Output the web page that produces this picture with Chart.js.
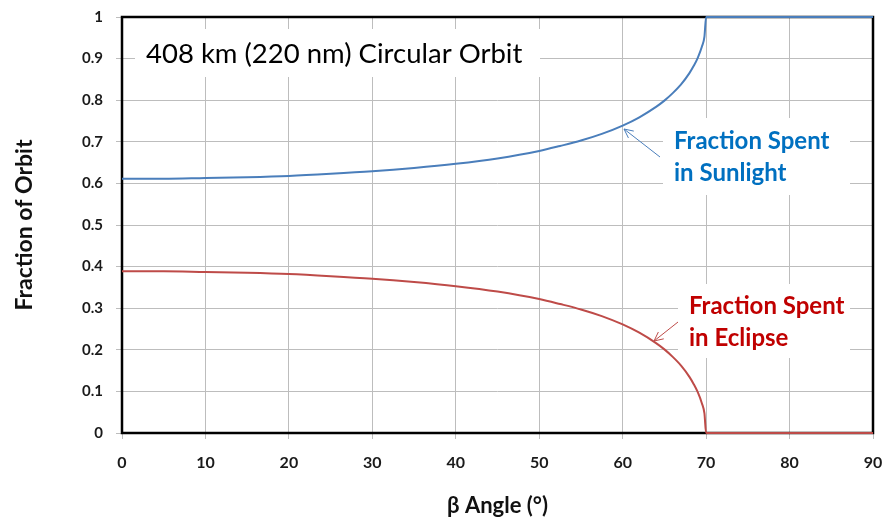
<!DOCTYPE html>
<html>
<head>
<meta charset="utf-8">
<script src="https://cdn.jsdelivr.net/npm/chart.js@4.4.1/dist/chart.umd.min.js"></script>
<style>
  body { margin: 0; background: #fff; }
  canvas { display: block; }
</style>
</head>
<body>
<canvas id="orbitChart" width="883" height="523"></canvas>
<script>
// beta angle (deg) and fraction of orbit
const betaAngle = [0, 5, 10, 15, 20, 25, 30, 35, 40, 45, 50, 52.5, 55, 57.5, 60, 62, 64, 65, 66, 67, 68, 68.5, 69, 69.5, 69.8, 70, 75, 80, 85, 90];
const sunlight  = [0.611, 0.611, 0.613, 0.615, 0.618, 0.623, 0.629, 0.637, 0.647, 0.660, 0.678, 0.690, 0.703, 0.719, 0.739, 0.759, 0.784, 0.799, 0.817, 0.838, 0.865, 0.882, 0.902, 0.929, 0.953, 1, 1, 1, 1, 1];
const eclipse   = [0.389, 0.389, 0.387, 0.385, 0.382, 0.377, 0.371, 0.363, 0.353, 0.340, 0.322, 0.310, 0.297, 0.281, 0.261, 0.241, 0.216, 0.201, 0.183, 0.162, 0.135, 0.118, 0.098, 0.071, 0.047, 0, 0, 0, 0, 0];

const chartTitle = "408 km (220 nm) Circular Orbit";
const sunLabel = ["Fraction Spent", "in Sunlight"];
const eclLabel = ["Fraction Spent", "in Eclipse"];

function toPoints(xs, ys)
{
    return xs.map((x, i) => ({x: x, y: ys[i]}));
}

function arrow(ctx, x1, y1, x2, y2, color)
{
    ctx.save();
    ctx.strokeStyle = color;
    ctx.lineWidth = 1;
    ctx.beginPath();
    ctx.moveTo(x1, y1);
    ctx.lineTo(x2, y2);
    let a = Math.atan2(y2 - y1, x2 - x1);
    let len = 10;
    ctx.moveTo(x2, y2);
    ctx.lineTo(x2 - len * Math.cos(a - 0.45), y2 - len * Math.sin(a - 0.45));
    ctx.moveTo(x2, y2);
    ctx.lineTo(x2 - len * Math.cos(a + 0.45), y2 - len * Math.sin(a + 0.45));
    ctx.stroke();
    ctx.restore();
}

// white text boxes, frame and arrows
const notes = {
    id: "notes",
    beforeDatasetsDraw(chart)
    {
        const ctx = chart.ctx;
        const a = chart.chartArea;
        ctx.save();
        ctx.fillStyle = "#fff";
        ctx.fillRect(135, 29, 405, 48);
        ctx.fillRect(663, 118, 187, 77);
        ctx.fillRect(678, 284, 172, 74);

        ctx.strokeStyle = "#000";
        ctx.lineWidth = 2.5;
        ctx.strokeRect(a.left, a.top, a.right - a.left, a.bottom - a.top);

        ctx.textBaseline = "middle";
        ctx.fillStyle = "#000";
        ctx.font = "27.5px Lato";
        ctx.fillText(chartTitle, 146, 54);

        ctx.font = "bold 24px Lato";
        ctx.fillStyle = "#0070c0";
        ctx.fillText(sunLabel[0], 674, 141);
        ctx.fillText(sunLabel[1], 674, 173);
        ctx.fillStyle = "#c00000";
        ctx.fillText(eclLabel[0], 689, 306);
        ctx.fillText(eclLabel[1], 689, 338);
        ctx.restore();

        arrow(ctx, 660, 157, 624, 129, "#4a7ebb");
        arrow(ctx, 678, 322, 654, 341, "#be4b48");
    }
};

var ctx = document.getElementById("orbitChart").getContext("2d");
var myChart = new Chart(ctx, {
    type: "scatter",
    data: {
        datasets: [
            {
                label: "Sunlight",
                data: toPoints(betaAngle, sunlight),
                showLine: true,
                borderColor: "#4a7ebb",
                borderWidth: 2,
                pointRadius: 0,
                cubicInterpolationMode: "monotone",
                clip: false
            },
            {
                label: "Eclipse",
                data: toPoints(betaAngle, eclipse),
                showLine: true,
                borderColor: "#be4b48",
                borderWidth: 2,
                pointRadius: 0,
                cubicInterpolationMode: "monotone",
                clip: false
            }
        ]
    },
    options: {
        responsive: false,
        animation: false,
        layout: { padding: { top: 17, right: 10, left: 0, bottom: 0 } },
        plugins: {
            legend: { display: false },
            tooltip: { enabled: false }
        },
        scales: {
            x: {
                type: "linear",
                min: 0,
                max: 90,
                afterFit: function(scale) {
                    scale.height = 90;
                    scale.paddingLeft = 0;
                    scale.paddingRight = 0;
                },
                ticks: {
                    stepSize: 10,
                    color: "#1a1a1a",
                    padding: 14,
                    font: { family: "Lato", size: 16, weight: "bold" }
                },
                grid: { color: "#bdbdbd", lineWidth: 1, tickLength: 6 },
                border: { display: false },
                title: {
                    display: true,
                    text: "\u03b2 Angle (\u00b0)",
                    color: "#111",
                    padding: { top: 0, bottom: 4 },
                    font: { family: "Lato", size: 22, weight: "bold" }
                }
            },
            y: {
                min: 0,
                max: 1,
                afterFit: function(scale) {
                    scale.width = 122;
                    scale.paddingTop = 0;
                    scale.paddingBottom = 0;
                },
                ticks: {
                    stepSize: 0.1,
                    color: "#1a1a1a",
                    padding: 13,
                    font: { family: "Lato", size: 15, weight: "bold" },
                    callback: function(value) { return String(Number(value.toFixed(1))); }
                },
                grid: { color: "#bdbdbd", lineWidth: 1, tickLength: 6 },
                border: { display: false },
                title: {
                    display: true,
                    text: "Fraction of Orbit",
                    color: "#111",
                    padding: { top: 11, bottom: 0 },
                    font: { family: "Lato", size: 23, weight: "bold" }
                }
            }
        }
    },
    plugins: [notes]
});
</script>
</body>
</html>
